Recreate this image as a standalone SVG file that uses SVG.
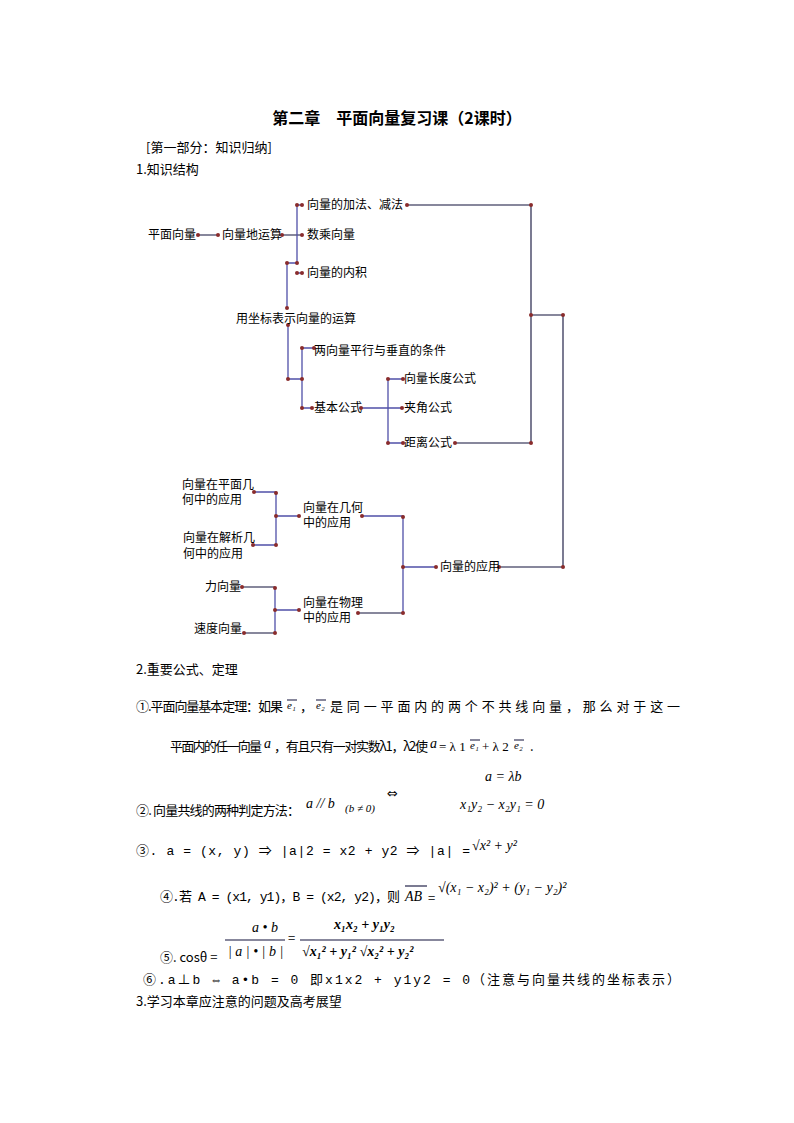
<svg xmlns="http://www.w3.org/2000/svg" width="794" height="1123" viewBox="0 0 794 1123">
<style>
text{font-family:"Noto Sans CJK SC","Liberation Sans",sans-serif;font-size:13px;fill:#000}
.n{font-size:12px}
.mo{font-family:"Liberation Mono","Noto Sans CJK SC",monospace;font-size:13px}
.m{font-family:"Liberation Serif","Noto Sans CJK SC",serif;font-style:italic;font-size:14px}
.b{stroke:#5050a8;stroke-width:1.3;fill:none}
.k{stroke:#10103a;stroke-width:1.1;fill:none}
.d{fill:#8a2c2c}
</style>
<rect width="794" height="1123" fill="#fff"/>
<text x="397" y="124" text-anchor="middle" style="font-size:16px;font-weight:bold">第二章　平面向量复习课（2课时）</text>
<text x="146" y="152">[第一部分：知识归纳]</text>
<text x="136" y="174">1.知识结构</text>
<g id="connectors">
<path class="k" d="M198 235H218M282 235H302M407 205H531V443M455 443H531M531 315H563V567M499 567H563M242 587H275M244 633H275M358 613H403"/>
<path class="b" d="M297 205V263M297 205H302M287 263H297M297 273H302M287 263V308M288 325V379H302M302 348V408M302 348H314M302 408H312M361 408H402M388 379V443M388 379H403M388 443H403M254 492H276V545H253M276 516H299M362 516H403V613M403 567H436M275 588V633M275 610H299"/>
</g>
<g class="d">
<circle cx="198" cy="235" r="2"/><circle cx="218" cy="235" r="2"/><circle cx="282" cy="235" r="2"/><circle cx="302" cy="235" r="2"/>
<circle cx="297" cy="205" r="2"/><circle cx="302" cy="205" r="2"/><circle cx="407" cy="205" r="2"/><circle cx="531" cy="205" r="2"/>
<circle cx="297" cy="263" r="2"/><circle cx="287" cy="263" r="2"/><circle cx="297" cy="273" r="2"/><circle cx="302" cy="273" r="2"/>
<circle cx="287" cy="308" r="2"/><circle cx="288" cy="325" r="2"/><circle cx="288" cy="379" r="2"/><circle cx="302" cy="379" r="2"/>
<circle cx="302" cy="348" r="2"/><circle cx="314" cy="348" r="2"/><circle cx="302" cy="408" r="2"/><circle cx="312" cy="408" r="2"/>
<circle cx="361" cy="408" r="2"/><circle cx="402" cy="408" r="2"/><circle cx="388" cy="379" r="2"/><circle cx="403" cy="379" r="2"/>
<circle cx="388" cy="443" r="2"/><circle cx="403" cy="443" r="2"/><circle cx="455" cy="443" r="2"/><circle cx="531" cy="443" r="2"/>
<circle cx="531" cy="315" r="2"/><circle cx="563" cy="315" r="2"/><circle cx="563" cy="567" r="2"/><circle cx="499" cy="567" r="2"/>
<circle cx="254" cy="492" r="2"/><circle cx="276" cy="493" r="2"/><circle cx="276" cy="516" r="2"/><circle cx="299" cy="516" r="2"/>
<circle cx="253" cy="545" r="2"/><circle cx="276" cy="545" r="2"/><circle cx="362" cy="516" r="2"/><circle cx="403" cy="517" r="2"/>
<circle cx="403" cy="567" r="2"/><circle cx="436" cy="567" r="2"/><circle cx="403" cy="613" r="2"/><circle cx="358" cy="613" r="2"/>
<circle cx="242" cy="587" r="2"/><circle cx="275" cy="588" r="2"/><circle cx="275" cy="610" r="2"/><circle cx="299" cy="610" r="2"/>
<circle cx="244" cy="633" r="2"/><circle cx="275" cy="633" r="2"/>
</g>
<g id="n1"><text class="n" x="148" y="239">平面向量</text></g>
<g id="n2"><text class="n" x="222" y="239">向量地运算</text></g>
<g id="n3"><text class="n" x="307" y="209">向量的加法、减法</text></g>
<g id="n4"><text class="n" x="307" y="239">数乘向量</text></g>
<g id="n5"><text class="n" x="307" y="277">向量的内积</text></g>
<g id="n6"><text class="n" x="236" y="323">用坐标表示向量的运算</text></g>
<g id="n7"><text class="n" x="314" y="355">两向量平行与垂直的条件</text></g>
<g id="n8"><text class="n" x="314" y="412">基本公式</text></g>
<g id="n9"><text class="n" x="404" y="383">向量长度公式</text></g>
<g id="n10"><text class="n" x="404" y="412">夹角公式</text></g>
<g id="n11"><text class="n" x="404" y="447">距离公式</text></g>
<g id="n12"><text class="n" x="182" y="489">向量在平面几</text><text class="n" x="182" y="504">何中的应用</text></g>
<g id="n13"><text class="n" x="183" y="542">向量在解析几</text><text class="n" x="183" y="558">何中的应用</text></g>
<g id="n14"><text class="n" x="303" y="512">向量在几何</text><text class="n" x="303" y="527">中的应用</text></g>
<g id="n15"><text class="n" x="440" y="571">向量的应用</text></g>
<g id="n16"><text class="n" x="205" y="591">力向量</text></g>
<g id="n17"><text class="n" x="194" y="633">速度向量</text></g>
<g id="n18"><text class="n" x="303" y="607">向量在物理</text><text class="n" x="303" y="622">中的应用</text></g>
<text x="136" y="674">2.重要公式、定理</text>
<text x="136" y="711" textLength="147">①.平面向量基本定理：如果</text><text class="m" x="287" y="709" style="font-size:11px">e₁</text><text x="300" y="711">，</text><text class="m" x="316" y="709" style="font-size:11px">e₂</text><text x="330" y="711" textLength="350">是同一平面内的两个不共线向量，那么对于这一</text>
<text x="170" y="751" textLength="92">平面内的任一向量</text><text class="m" x="264" y="748">a</text><text x="274" y="751" textLength="154">，有且只有一对实数λ1，λ2使</text><text class="m" x="430" y="748">a</text><text x="439" y="751" style="font-family:'Liberation Serif',serif">= λ 1</text><text class="m" x="470" y="749" style="font-size:11px">e₁</text><text x="482" y="751" style="font-family:'Liberation Serif',serif">+ λ 2</text><text class="m" x="514" y="749" style="font-size:11px">e₂</text><text x="530" y="751">.</text>
<path class="k" d="M287 700h10M316 700h10M470 740h10M514 740h10" stroke-width="0.8"/>
<text class="m" x="485" y="781">a = λb</text>
<text x="136" y="815" textLength="164">②.  向量共线的两种判定方法：</text><text class="m" x="306" y="808">a // b</text><text class="m" x="345" y="812" style="font-size:11px">(b ≠ 0)</text><text x="387" y="798" style="font-family:'DejaVu Sans'">⇔</text><text class="m" x="460" y="809">x₁y₂ − x₂y₁ = 0</text>
<text class="mo" x="136" y="855" textLength="334">③. a = (x, y)  ⇒  |a|2 = x2 + y2   ⇒  |a| =</text>
<text class="m" x="472" y="850">√x² + y²</text>
<text class="mo" x="160" y="901" textLength="240">④.若 A = (x1, y1)，B = (x2, y2)，则</text><text class="m" x="405" y="901">AB</text><path class="k" d="M405 886h22" stroke-width="0.8"/><text x="428" y="903">=</text><text class="m" x="438" y="892">√(x₁ − x₂)² + (y₁ − y₂)²</text>
<text class="m" x="252" y="932">a • b</text><path class="k" d="M225 940H285M300 940H444" stroke-width="0.8"/><text class="m" x="228" y="956">| a | • | b |</text><text x="288" y="943">=</text>
<text class="m" x="334" y="929" style="font-weight:bold">x₁x₂ + y₁y₂</text><text class="m" x="302" y="956" style="font-weight:bold">√x₁² + y₁² √x₂² + y₂²</text>
<text x="160" y="962">⑤. cosθ =</text>
<text class="mo" x="143" y="984" textLength="537">⑥.a⊥b ⇔ a•b = 0 即x1x2 + y1y2 = 0（注意与向量共线的坐标表示）</text>
<text x="136" y="1006">3.学习本章应注意的问题及高考展望</text>
</svg>
